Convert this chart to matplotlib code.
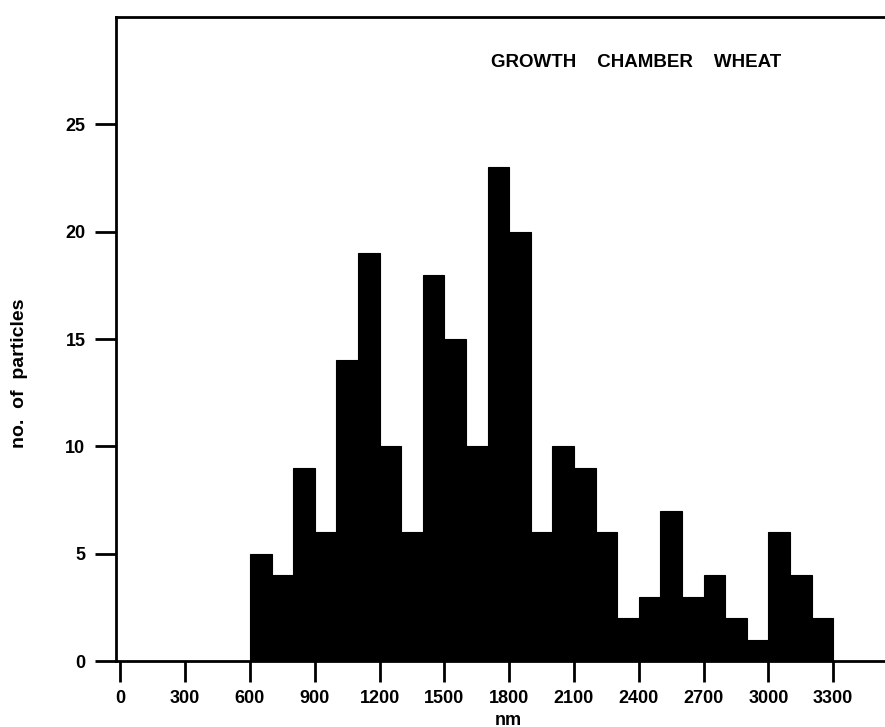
import numpy as np
import matplotlib
matplotlib.use("Agg")
import matplotlib.pyplot as plt

plt.rcParams['font.family'] = ['Liberation Sans', 'DejaVu Sans']

# size bins (nm), 100 nm wide, left edges
bin_left = np.arange(600, 3300, 100)
counts = [5, 4, 9, 6, 14, 19, 10, 6, 18, 15, 10, 23, 20, 6,
          10, 9, 6, 2, 3, 7, 3, 4, 2, 1, 6, 4, 2]
x_ticks = [0, 300, 600, 900, 1200, 1500, 1800, 2100, 2400, 2700, 3000, 3300]
y_ticks = [0, 5, 10, 15, 20, 25]

fig = plt.figure(figsize=(8.85, 7.27), dpi=100)
ax = fig.add_axes([116/885, 66/727, (885-116)/885, 644/727])

ax.bar(bin_left, counts, width=100, align='edge', color='black',
       edgecolor='black', linewidth=0.8)

ax.set_xlim(-20, 3540)
ax.set_ylim(0, 30.0)
ax.spines['right'].set_visible(False)
for s in ['left', 'top', 'bottom']:
    ax.spines[s].set_linewidth(2)

ax.set_xticks(x_ticks)
ax.set_yticks(y_ticks)
ax.tick_params(axis='x', direction='out', length=15, width=2,
               labelsize=13, pad=6)
ax.tick_params(axis='y', direction='out', length=15, width=2,
               labelsize=13, pad=7)
for lab in ax.get_xticklabels() + ax.get_yticklabels():
    lab.set_fontweight('bold')

ax.set_xlabel('nm', fontsize=13, fontweight='bold', va='center')
ax.xaxis.set_label_coords(0.51, -0.092)
ax.set_ylabel('no.  of  particles', fontsize=14, fontweight='bold', va='center')
ax.yaxis.set_label_coords(-0.126, 0.447)

ax.text(0.676, 0.929, 'GROWTH    CHAMBER    WHEAT', transform=ax.transAxes,
        ha='center', va='center', fontsize=13.5, fontweight='bold')

fig.savefig('out.png', dpi=100)
